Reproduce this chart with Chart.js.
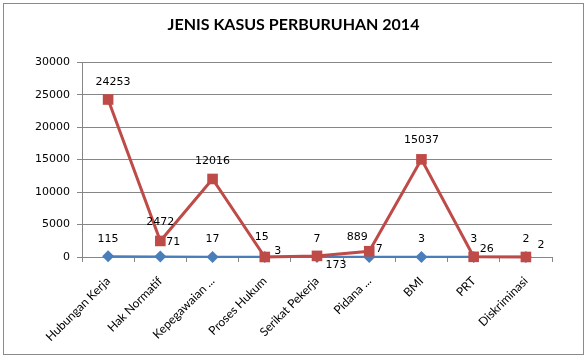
<!DOCTYPE html>
<html>
<head>
<meta charset="utf-8">
<script src="https://cdn.jsdelivr.net/npm/chart.js@4/dist/chart.umd.min.js"></script>
<style>
  html, body { margin: 0; padding: 0; background: #fff; }
  #wrap { width: 587px; height: 358px; }
</style>
</head>
<body>
<div id="wrap"><canvas id="c" width="587" height="358"></canvas></div>
<script>
const categories = ["Hubungan Kerja", "Hak Normatif", "Kepegawaian ...", "Proses Hukum", "Serikat Pekerja", "Pidana ...", "BMI", "PRT", "Diskriminasi"];
const seriesBlue = [115, 71, 17, 15, 7, 7, 3, 3, 2];
const seriesRed = [24253, 2472, 12016, 3, 173, 889, 15037, 26, 2];
const yTicks = [0, 5000, 10000, 15000, 20000, 25000, 30000];

// label placement offsets (pixels from the point), kept apart from the data
const blueLabelOffsets = [[0,-17],[13,-14],[0,-18],[-3,-20],[0,-18],[10,-8],[0,-18],[0,-18],[0,-18]];
const redLabelOffsets = [[5,-17],[0,-19],[0,-18],[13,-6],[19,9],[-12,-14],[0,-19],[13,-8],[15,-12]];

const framePlugin = {
  id: 'frame',
  beforeDraw(chart) {
    const ctx = chart.ctx;
    ctx.save();
    ctx.fillStyle = '#ffffff';
    ctx.fillRect(0, 0, chart.width, chart.height);
    ctx.strokeStyle = '#8a8a8a';
    ctx.lineWidth = 1;
    ctx.strokeRect(3.5, 3.5, 580, 351);
    ctx.restore();
  }
};

const labelPlugin = {
  id: 'pointLabels',
  afterDatasetsDraw(chart) {
    const ctx = chart.ctx;
    ctx.save();
    ctx.font = '11px "DejaVu Sans"';
    ctx.fillStyle = '#000';
    ctx.textAlign = 'center';
    ctx.textBaseline = 'middle';
    chart.data.datasets.forEach((ds, di) => {
      const meta = chart.getDatasetMeta(di);
      const offs = ds.labelOffsets;
      meta.data.forEach((pt, i) => {
        const o = offs[i];
        ctx.fillText(String(ds.data[i]), pt.x + o[0], pt.y + o[1]);
      });
    });
    ctx.restore();
  }
};

new Chart(document.getElementById('c'), {
  type: 'line',
  data: {
    labels: categories,
    datasets: [
      {
        label: 'Kasus',
        data: seriesBlue,
        borderColor: '#4a7ebb',
        backgroundColor: '#4a7ebb',
        borderWidth: 2.25,
        pointStyle: 'rectRot',
        pointRadius: 6,
        pointBorderWidth: 0,
        pointBackgroundColor: '#4a7ebb',
        tension: 0,
        clip: false,
        order: 1,
        labelOffsets: blueLabelOffsets
      },
      {
        label: 'Jumlah',
        data: seriesRed,
        borderColor: '#be4b48',
        backgroundColor: '#be4b48',
        borderWidth: 3,
        pointStyle: 'rect',
        pointRadius: 7.5,
        pointBorderWidth: 0,
        pointBackgroundColor: '#be4b48',
        tension: 0,
        clip: false,
        order: 0,
        labelOffsets: redLabelOffsets
      }
    ]
  },
  options: {
    responsive: false,
    animation: false,
    devicePixelRatio: 1,
    layout: { padding: { top: 3, right: 0, bottom: 0, left: 0 } },
    plugins: {
      legend: { display: false },
      tooltip: { enabled: false },
      title: {
        display: true,
        text: 'JENIS KASUS PERBURUHAN 2014',
        color: '#000',
        font: { family: 'Lato', size: 16, weight: 'bold', lineHeight: 1.2 },
        padding: { top: 12, bottom: 28 }
      }
    },
    scales: {
      x: {
        offset: true,
        grid: { offset: true, drawOnChartArea: false, drawTicks: true, tickLength: 5, color: '#868686' },
        border: { color: '#868686' },
        ticks: {
          maxRotation: 45, minRotation: 45, autoSkip: false,
          color: '#000', padding: 12,
          font: { family: 'Lato', size: 12 }
        },
        afterFit(scale) { scale.height = 101; }
      },
      y: {
        min: 0, max: 30000,
        afterBuildTicks(scale) { scale.ticks = yTicks.map(v => ({ value: v })); },
        grid: { color: '#868686', tickLength: 5 },
        border: { color: '#868686' },
        ticks: {
          color: '#000', padding: 7,
          font: { family: 'DejaVu Sans', size: 11 },
          callback: (v) => String(v)
        },
        afterFit(scale) { scale.width = 82; }
      },
      spacer: {
        type: 'linear',
        position: 'right',
        display: true,
        grid: { display: false, drawTicks: false },
        border: { display: false },
        ticks: { display: false },
        afterFit(scale) { scale.width = 35; }
      }
    }
  },
  plugins: [framePlugin, labelPlugin]
});
</script>
</body>
</html>
